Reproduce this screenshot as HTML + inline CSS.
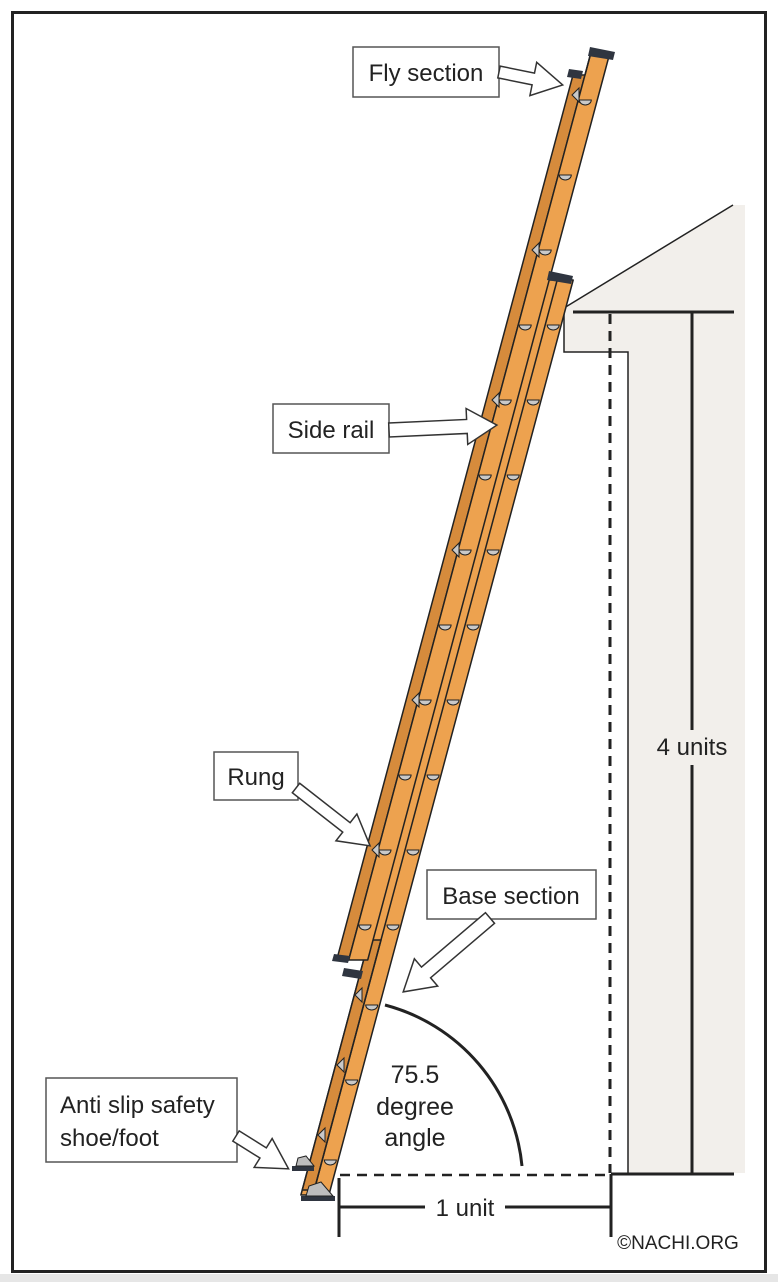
<!DOCTYPE html>
<html><head><meta charset="utf-8"><style>
html,body{margin:0;padding:0;background:#fff;}
svg{display:block;}
text{font-family:"Liberation Sans",sans-serif;fill:#222;}
</style></head><body>
<svg width="778" height="1282" viewBox="0 0 778 1282" xmlns="http://www.w3.org/2000/svg">
<rect x="0" y="0" width="778" height="1282" fill="#fff"/>
<rect x="0" y="1274" width="778" height="8" fill="#e6e6e6"/>
<rect x="12.5" y="12.5" width="753" height="1259" fill="none" stroke="#222" stroke-width="3"/>

<!-- house -->
<polygon points="564,308 733,205 745,205 745,1173 628,1173 628,352 564,352" fill="#f2efeb"/>
<line x1="564" y1="308" x2="733" y2="205" stroke="#222" stroke-width="1.5"/>
<polyline points="564,308 564,352 628,352 628,1173" fill="none" stroke="#222" stroke-width="1.5"/>
<line x1="573" y1="312" x2="734" y2="312" stroke="#222" stroke-width="3"/>
<line x1="692" y1="312" x2="692" y2="730" stroke="#222" stroke-width="3"/>
<line x1="692" y1="765" x2="692" y2="1173" stroke="#222" stroke-width="3"/>
<line x1="611" y1="1174" x2="734" y2="1174" stroke="#222" stroke-width="3"/>
<line x1="610" y1="314" x2="610" y2="1173" stroke="#222" stroke-width="3" stroke-dasharray="10,7"/>
<line x1="340" y1="1175" x2="608" y2="1175" stroke="#222" stroke-width="2.5" stroke-dasharray="10,7"/>
<line x1="611" y1="1174" x2="611" y2="1237" stroke="#222" stroke-width="3"/>
<line x1="339" y1="1178" x2="339" y2="1237" stroke="#222" stroke-width="3"/>
<line x1="339" y1="1207" x2="425" y2="1207" stroke="#222" stroke-width="3"/>
<line x1="505" y1="1207" x2="611" y2="1207" stroke="#222" stroke-width="3"/>
<text x="465" y="1216" font-size="24" text-anchor="middle">1 unit</text>
<text x="692" y="755" font-size="24" text-anchor="middle">4 units</text>
<text x="678" y="1249" font-size="19" text-anchor="middle">©NACHI.ORG</text>

<!-- angle arc -->
<path d="M385,1005 A185,185 0 0 1 522,1166" fill="none" stroke="#222" stroke-width="3"/>
<text x="415" y="1083" font-size="25" text-anchor="middle">75.5</text>
<text x="415" y="1115" font-size="25" text-anchor="middle">degree</text>
<text x="415" y="1146" font-size="25" text-anchor="middle">angle</text>

<!-- ladder -->
<g stroke="#222" stroke-width="1.5" stroke-linejoin="round">
<polygon points="545.2,280 573.2,280 328.9,1195 300.9,1195" fill="#eda24f"/>
<polygon points="369,940 381,940 314.3,1190 302.3,1190" fill="#d68b3c"/>
<line x1="557.2" y1="280" x2="312.9" y2="1195"/>
<polygon points="573,75 585,75 348.7,960 336.7,960" fill="#d68b3c"/>
<polygon points="590.3,55 609.3,55 367.7,960 348.7,960" fill="#eda24f"/>
<line x1="585" y1="75" x2="590.3" y2="55"/>
</g>
<!-- rungs -->
<g fill="#c9c9c9" stroke="#222" stroke-width="1">
<path d="M579.3,100 h12 a6,5 0 0 1 -12,0 z"/><path d="M559.3,175 h12 a6,5 0 0 1 -12,0 z"/>
<path d="M539.2,250 h12 a6,5 0 0 1 -12,0 z"/><path d="M519.2,325 h12 a6,5 0 0 1 -12,0 z"/>
<path d="M499.2,400 h12 a6,5 0 0 1 -12,0 z"/><path d="M479.2,475 h12 a6,5 0 0 1 -12,0 z"/>
<path d="M459.1,550 h12 a6,5 0 0 1 -12,0 z"/><path d="M439.1,625 h12 a6,5 0 0 1 -12,0 z"/>
<path d="M419.1,700 h12 a6,5 0 0 1 -12,0 z"/><path d="M399.1,775 h12 a6,5 0 0 1 -12,0 z"/>
<path d="M379,850 h12 a6,5 0 0 1 -12,0 z"/><path d="M359,925 h12 a6,5 0 0 1 -12,0 z"/>
<path d="M547.2,325 h12 a6,5 0 0 1 -12,0 z"/><path d="M527.2,400 h12 a6,5 0 0 1 -12,0 z"/>
<path d="M507.2,475 h12 a6,5 0 0 1 -12,0 z"/><path d="M487.1,550 h12 a6,5 0 0 1 -12,0 z"/>
<path d="M467.1,625 h12 a6,5 0 0 1 -12,0 z"/><path d="M447.1,700 h12 a6,5 0 0 1 -12,0 z"/>
<path d="M427.1,775 h12 a6,5 0 0 1 -12,0 z"/><path d="M407,850 h12 a6,5 0 0 1 -12,0 z"/>
<path d="M387,925 h12 a6,5 0 0 1 -12,0 z"/><path d="M365.7,1005 h12 a6,5 0 0 1 -12,0 z"/>
<path d="M345.6,1080 h12 a6,5 0 0 1 -12,0 z"/><path d="M324.3,1160 h12 a6,5 0 0 1 -12,0 z"/>
<path d="M532,250 l7,-7 0,14 z"/><path d="M492,400 l7,-7 0,14 z"/>
<path d="M452,550 l7,-7 0,14 z"/><path d="M412,700 l7,-7 0,14 z"/>
<path d="M372,850 l7,-7 0,14 z"/><path d="M572,95 l7,-7 0,14 z"/>
<path d="M355,995 l7,-7 0,14 z"/><path d="M337,1065 l7,-7 0,14 z"/>
<path d="M318,1135 l7,-7 0,14 z"/>
</g>
<!-- caps -->
<g fill="#2f3540">
<polygon points="590,47 615,52 613,60 588,56"/>
<polygon points="569,69 583,71 581,79 567,77"/>
<polygon points="549,271 573,276 571,284 547,280"/>
<polygon points="334,954 350,956 348,963 332,961"/>
<polygon points="344,968 363,971 361,979 342,976"/>
<rect x="292" y="1166" width="22" height="5"/>
<rect x="301" y="1196" width="34" height="5"/>
</g>
<g fill="#bdbdbd" stroke="#222" stroke-width="1">
<path d="M296,1166 l2,-8 8,-2 8,10 z"/>
<path d="M306,1196 l3,-10 12,-4 12,14 z"/>
</g>

<!-- callout boxes -->
<g fill="#fff" stroke="#555" stroke-width="1.5">
<rect x="353" y="47" width="146" height="50"/>
<rect x="273" y="404" width="116" height="49"/>
<rect x="214" y="752" width="84" height="48"/>
<rect x="427" y="870" width="169" height="49"/>
<rect x="46" y="1078" width="191" height="84"/>
</g>
<g fill="#fff" stroke="#333" stroke-width="1.5" stroke-linejoin="miter">
<polygon transform="translate(499,72) rotate(11.5)" points="0,-6 35,-6 35,-17 65,0 35,17 35,6 0,6"/>
<polygon transform="translate(389,430) rotate(-2.6)" points="0,-7 78,-7 78,-18 108,0 78,18 78,7 0,7"/>
<polygon transform="translate(296,788) rotate(38)" points="0,-6 64,-6 64,-17 94,0 64,17 64,6 0,6"/>
<polygon transform="translate(490,918) rotate(139.6)" points="0,-7 84,-7 84,-18 114,0 84,18 84,7 0,7"/>
<polygon transform="translate(236,1136) rotate(32)" points="0,-6 32,-6 32,-17 62,0 32,17 32,6 0,6"/>
</g>
<text x="426" y="81" font-size="24" text-anchor="middle">Fly section</text>
<text x="331" y="438" font-size="24" text-anchor="middle">Side rail</text>
<text x="256" y="785" font-size="24" text-anchor="middle">Rung</text>
<text x="511" y="904" font-size="24" text-anchor="middle">Base section</text>
<text x="60" y="1113" font-size="24">Anti slip safety</text>
<text x="60" y="1146" font-size="24">shoe/foot</text>
</svg>
</body></html>
